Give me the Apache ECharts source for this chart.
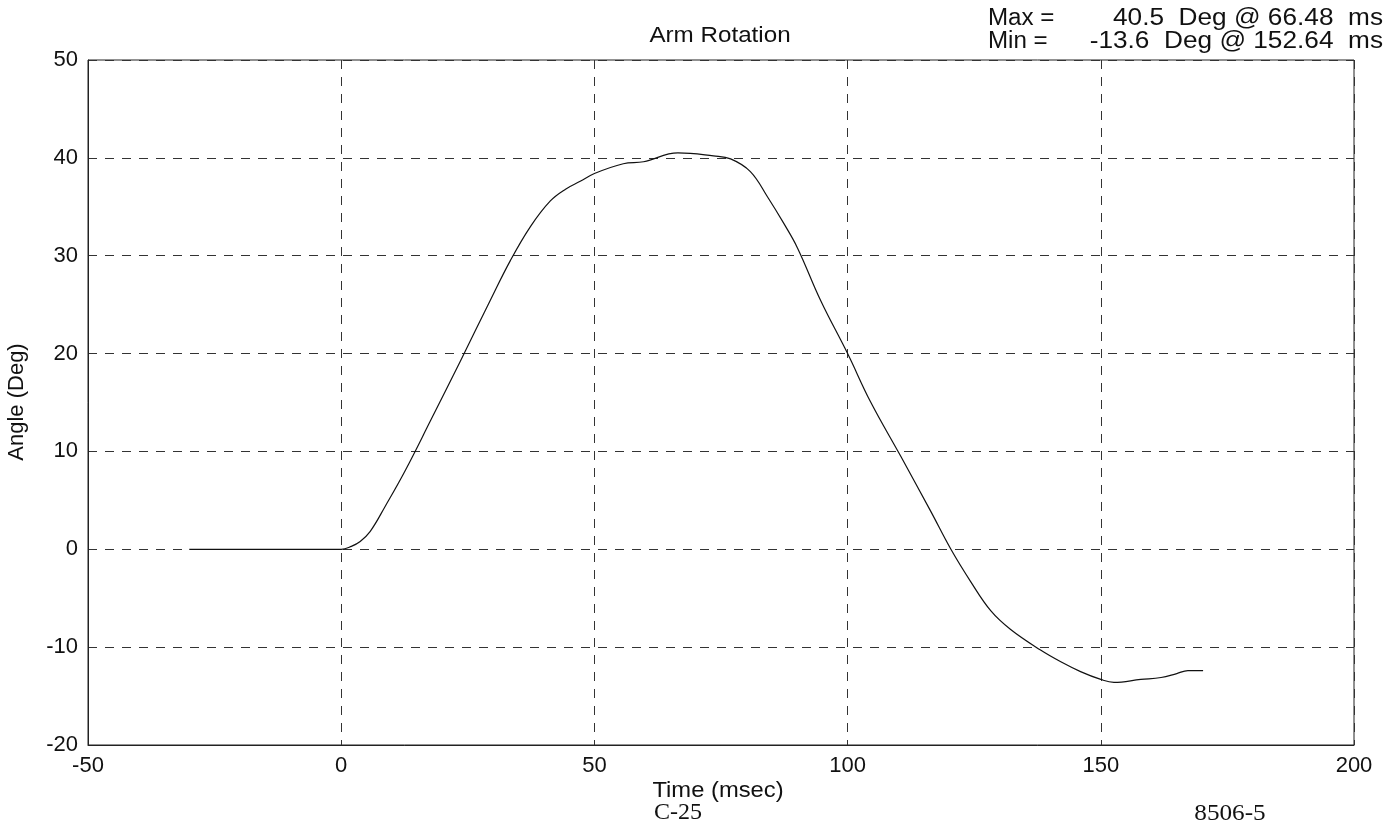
<!DOCTYPE html>
<html><head><meta charset="utf-8">
<script src="https://cdn.jsdelivr.net/npm/echarts@6/dist/echarts.min.js"></script>
<style>html,body{margin:0;padding:0;background:#fff}#c{width:1394px;height:826px}</style>
</head><body><div id="c"></div>
<script>
var timeMs = [-30, -20, -10, -5, 0, 2, 3.75, 5.7, 8.7, 12.6, 17.6, 23.5, 29.4, 33.4, 37.4, 41.3, 44.3, 47.2, 50, 55.7, 59.7, 66.5, 73.5, 76.9, 80.8, 84.2, 87.4, 90.1, 94.7, 100, 104.5, 110.5, 116.4, 120.4, 124.3, 128.3, 132.2, 138.1, 142.1, 146, 150, 152.6, 157.9, 161.9, 165, 167.2, 170.2];
var angleDeg = [0, 0, 0, 0, 0, 0.3, 0.8, 1.8, 4.4, 8, 13.1, 19.2, 25.4, 29.5, 33, 35.6, 36.8, 37.6, 38.4, 39.4, 39.6, 40.5, 40.2, 39.9, 38.6, 36, 33.3, 30.8, 25.4, 20, 15.1, 9.5, 3.9, 0, -3.3, -6.3, -8.2, -10.3, -11.5, -12.5, -13.3, -13.6, -13.3, -13.1, -12.7, -12.4, -12.4];
var xTicks = [-50, 0, 50, 100, 150, 200];
var yTicks = [-20, -10, 0, 10, 20, 30, 40, 50];
var titleText = 'Arm Rotation';
var xName = 'Time (msec)';
var yName = 'Angle (Deg)';
var maxLabel = ['Max =', '40.5  Deg @ 66.48  ms'];
var minLabel = ['Min =', '-13.6  Deg @ 152.64  ms'];
var notes = ['C-25', '8506-5'];

var font = 'Arial, "Liberation Sans", sans-serif';
var serif = '"Times New Roman", "Liberation Serif", serif';
function txt(text, x, y, size, align, fam, sx) {
  return {type: 'text', x: x, y: y, scaleX: sx || 1, style: {text: text, font: size + 'px ' + (fam || font), fill: '#111', align: align || 'left', verticalAlign: 'middle'}};
}
var chart = echarts.init(document.getElementById('c'));
chart.setOption({
  animation: false,
  backgroundColor: '#fff',
  grid: {left: 88, right: 40, top: 60, bottom: 81, show: true, borderColor: '#222', borderWidth: 1},
  xAxis: {
    type: 'value', min: xTicks[0], max: xTicks[xTicks.length-1], interval: 50,
    axisLine: {show: true, onZero: false, lineStyle: {color: '#222', width: 1}},
    axisTick: {show: false},
    axisLabel: {color: '#111', fontSize: 22, fontFamily: font, margin: 10},
    splitLine: {show: true, lineStyle: {color: '#333', type: [9, 8], width: 1}}
  },
  yAxis: {
    type: 'value', min: yTicks[0], max: yTicks[yTicks.length-1], interval: 10,
    axisLine: {show: true, onZero: false, lineStyle: {color: '#222', width: 1}},
    axisTick: {show: false},
    axisLabel: {color: '#111', fontSize: 22, fontFamily: font, margin: 10},
    splitLine: {show: true, lineStyle: {color: '#333', type: [9, 8], width: 1}}
  },
  series: [{
    type: 'line', smooth: 0.4, symbol: 'none',
    lineStyle: {color: '#111', width: 1.2},
    data: timeMs.map(function (t, i) { return [t, angleDeg[i]]; })
  }],
  graphic: [
    txt(titleText, 720, 36, 22, 'center', font, 1.1),
    txt(maxLabel[0], 988, 19, 23, 'left', font, 1.05),
    txt(maxLabel[1], 1383, 19, 23, 'right', font, 1.14),
    txt(minLabel[0], 988, 42, 23, 'left', font, 1.05),
    txt(minLabel[1], 1383, 42, 23, 'right', font, 1.14),
    txt(xName, 718, 791, 22, 'center', font, 1.08),
    txt(notes[0], 678, 813, 24, 'center', serif, 1),
    txt(notes[1], 1230, 814, 24, 'center', serif, 1.05),
    {type: 'text', x: 17, y: 402, rotation: Math.PI / 2, style: {text: yName, font: '22px ' + font, fill: '#111', align: 'center', verticalAlign: 'middle'}}
  ]
});
</script></body></html>
